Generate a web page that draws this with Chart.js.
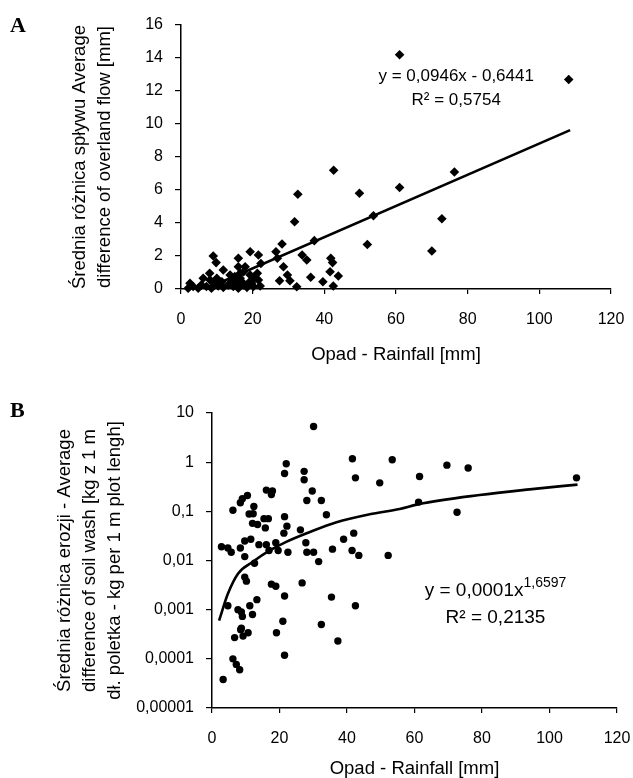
<!DOCTYPE html>
<html>
<head>
<meta charset="utf-8">
<script src="https://cdn.jsdelivr.net/npm/chart.js@4.4.1/dist/chart.umd.min.js"></script>
<style>
    body { margin: 0; background: #fff; }
    #wrap { position: relative; width: 633px; height: 778px; }
    .panel { position: absolute; left: 0; width: 633px; }
    .lbl { position: absolute; font-family: "Liberation Serif", "DejaVu Serif", serif; font-weight: bold; font-size: 22px; color: #000; }
</style>
</head>
<body>
<div id="wrap">
    <div class="panel" style="top:0;height:390px"><canvas id="chartA" width="633" height="390"></canvas></div>
    <div class="panel" style="top:390px;height:388px"><canvas id="chartB" width="633" height="388"></canvas></div>
    <div class="lbl" style="left:10px;top:12px">A</div>
    <div class="lbl" style="left:10px;top:397px">B</div>
</div>
<script>
// A: overland flow vs rainfall
var rainA = [61, 108.2, 42.6, 32.6, 49.8, 61, 76.3, 72.8, 70, 31.7, 53.7, 37.2, 52, 28.2, 26.5, 26.9, 28.6, 33.8, 35.1, 41.8,
    42.3, 29.7, 30.4, 32.3, 36.2, 39.6, 41.6, 43.9, 42.5, 27.5, 19.3, 21.6, 22.3, 16, 9, 9.8, 11.8, 16, 17.9, 16.5,
    19.3, 21.3, 21.6, 22.1, 19, 20.2, 6.2, 8.1, 10, 11.4, 14.2, 15.6, 17, 2.5, 2, 3.4, 4.8, 5.7, 7.1, 8.5,
    9, 10.4, 11.8, 13.2, 14.6, 16, 17.4, 18.4, 19.7, 20.6, 16.5, 13.7, 15, 17.5, 8];
var flowA = [14.2, 12.7, 7.2, 5.74, 5.8, 6.15, 7.09, 4.26, 2.3, 4.08, 4.44, 2.93, 2.7, 2.73, 2.26, 1.86, 1.35, 2.06, 1.76, 1.86,
    1.6, 0.85, 0.5, 0.14, 0.71, 0.44, 1.05, 0.79, 0.18, 0.5, 2.26, 2.06, 1.55, 1.86, 2.0, 1.6, 1.15, 1.35, 1.35, 0.95,
    0.85, 0.95, 0.55, 0.18, 0.4, 0.15, 0.65, 0.55, 0.65, 0.44, 0.55, 0.35, 0.44, 0.35, 0.05, 0.15, 0.05, 0.25, 0.15, 0.05,
    0.35, 0.18, 0.1, 0.25, 0.15, 0.05, 0.25, 0.1, 0.35, 0.65, 0.65, 0.85, 0.75, 1.05, 0.95];
// trend line ends
var trendAx = [6.8, 108.6];
var trendAy = [0, 9.63];
var ticksAy = [0, 2, 4, 6, 8, 10, 12, 14, 16];

// B: soil wash vs rainfall (log)
var rainB = [30.1, 41.6, 53.4, 22, 21.5, 27.3, 27.3, 29.7, 42.5, 49.7, 52.2, 43.5, 41.5, 42, 39, 35.7, 32.4, 33.9, 28.1, 26.2,
    27.8, 28.1, 30.1, 31.6, 26.7, 35.4, 42.5, 32.4, 21, 21.5, 17.6, 18.9, 21.5, 22.2, 21.3, 22.5, 18.9, 19.6, 16.9, 16.1,
    13.9, 16.1, 17.9, 17.6, 16.7, 15.4, 15.8, 13.5, 12, 12.4, 12.2, 11, 10.5, 9, 8.4, 6.2, 2.8, 4.7, 5.7, 8.4,
    9.7, 11.5, 9.7, 12.6, 9.7, 10.2, 13.3, 11.2, 12, 7.7, 8.7, 9, 4.7, 8.7, 61.5, 69.6, 75.9, 108, 61.2, 72.6,
    3.3, 6.2, 7.2, 8.2, 6.7, 8.5, 9.2, 10.7, 19.1, 21.5, 37.3];
var washB = [5.3, 1.17, 1.12, 0.93, 0.59, 0.65, 0.44, 0.26, 0.48, 0.38, 0.0127, 0.0127, 0.016, 0.036, 0.027, 0.017, 0.166, 0.085, 0.166, 0.042,
    0.023, 0.0147, 0.0147, 0.0095, 0.0035, 0.0018, 0.0012, 0.0005, 0.00058, 0.0019, 0.0033, 0.003, 0.078, 0.05, 0.036, 0.0147, 0.023, 0.016, 0.016, 0.021,
    0.021, 0.27, 0.26, 0.22, 0.071, 0.071, 0.046, 0.054, 0.057, 0.126, 0.089, 0.088, 0.21, 0.18, 0.15, 0.105, 0.019, 0.018, 0.0147, 0.018,
    0.025, 0.027, 0.012, 0.0088, 0.0046, 0.0038, 0.0016, 0.0012, 0.0008, 0.001, 0.0009, 0.00073, 0.0012, 0.00042, 0.51, 0.87, 0.76, 0.48, 0.154, 0.096,
    0.000038, 0.0001, 0.000077, 0.00006, 0.00027, 0.00039, 0.00029, 0.00034, 0.00034, 0.000118, 0.00023];
// power trend curve
var trendBx = [2.1, 4.7, 7.7, 12.1, 17.1, 22, 29, 36.9, 46.7, 55.6, 61.2, 79.3, 94.1, 108.3];
var trendBy = [0.0006, 0.0021, 0.0054, 0.0094, 0.016, 0.024, 0.038, 0.06, 0.087, 0.112, 0.14, 0.215, 0.28, 0.35];
var ticksBy = [0.00001, 0.0001, 0.001, 0.01, 0.1, 1, 10];
var ticksByLabels = ['0,00001', '0,0001', '0,001', '0,01', '0,1', '1', '10'];
var ticksX = [0, 20, 40, 60, 80, 100, 120];

Chart.defaults.font.family = '"Liberation Sans", Arial, sans-serif';
Chart.defaults.color = '#000';
Chart.defaults.animation = false;

function toPts(xs, ys) {
    var out = [];
    for (var i = 0; i < xs.length; i++) out.push({ x: xs[i], y: ys[i] });
    return out;
}

// text in the plot (equations)
var eqPlugin = {
    id: 'eqText',
    afterDraw: function (chart, args, opts) {
        var ctx = chart.ctx;
        var sx = chart.scales.x, sy = chart.scales.y;
        ctx.save();
        ctx.fillStyle = '#000';
        ctx.textBaseline = 'middle';
        (opts.lines || []).forEach(function (ln) {
            var px = sx.getPixelForValue(ln.x), py = sy.getPixelForValue(ln.y);
            ctx.font = ln.size + 'px "Liberation Sans", Arial, sans-serif';
            var w = ctx.measureText(ln.text).width;
            var ws = 0;
            if (ln.sup) {
                ctx.font = ln.supSize + 'px "Liberation Sans", Arial, sans-serif';
                ws = ctx.measureText(ln.sup).width;
            }
            var left = px - (w + ws) / 2;
            ctx.font = ln.size + 'px "Liberation Sans", Arial, sans-serif';
            ctx.textAlign = 'left';
            ctx.fillText(ln.text, left, py);
            if (ln.sup) {
                ctx.font = ln.supSize + 'px "Liberation Sans", Arial, sans-serif';
                ctx.fillText(ln.sup, left + w, py - 7);
            }
        });
        ctx.restore();
    }
};

function axisX(padTitle, h) {
    return {
        type: 'linear',
        min: 0, max: 120,
        afterBuildTicks: function (s) { s.ticks = ticksX.map(function (v) { return { value: v }; }); },
        afterFit: function (s) { s.height = h; s.paddingLeft = 0; s.paddingRight = 0; },
        border: { display: true, color: '#000', width: 1.5 },
        grid: { display: true, drawOnChartArea: false, drawTicks: true, tickLength: 5, color: '#000', lineWidth: 1.2 },
        ticks: { font: { size: 16 }, padding: 16, maxRotation: 0 },
        title: { display: true, text: 'Opad - Rainfall [mm]', font: { size: 18.5, lineHeight: 1 }, padding: { top: 0, bottom: padTitle } }
    };
}

var configA = {
    data: {
        datasets: [{
            type: 'scatter',
            data: toPts(rainA, flowA),
            pointStyle: 'rectRot',
            pointRadius: 4.8,
            backgroundColor: '#000',
            borderWidth: 0,
            clip: false
        }, {
            type: 'line',
            data: toPts(trendAx, trendAy),
            borderColor: '#000',
            borderWidth: 2.6,
            pointRadius: 0,
            fill: false
        }]
    },
    options: {
        responsive: false,
        layout: { padding: { left: 0, right: 22, top: 25, bottom: 0 } },
        plugins: {
            legend: { display: false },
            tooltip: { enabled: false },
            eqText: {
                lines: [
                    { text: 'y = 0,0946x - 0,6441', x: 76.8, y: 12.9, size: 17 },
                    { text: 'R\u00b2 = 0,5754', x: 76.8, y: 11.45, size: 17 }
                ]
            }
        },
        scales: {
            x: axisX(26, 101),
            y: {
                type: 'linear',
                min: 0, max: 16,
                afterBuildTicks: function (s) { s.ticks = ticksAy.map(function (v) { return { value: v }; }); },
                afterFit: function (s) { s.width = 181; s.paddingTop = 0; s.paddingBottom = 0; },
                border: { display: true, color: '#000', width: 1.5 },
                grid: { display: true, drawOnChartArea: false, drawTicks: true, tickLength: 6, color: '#000', lineWidth: 1.2 },
                ticks: { font: { size: 16 }, padding: 12 },
                title: {
                    display: true,
                    text: ['\u015arednia r\u00f3\u017cnica sp\u0142ywu Average', 'difference of overland flow [mm]'],
                    font: { size: 18.5, lineHeight: 1.35 },
                    padding: { top: 67, bottom: 0 }
                }
            }
        }
    },
    plugins: [eqPlugin]
};

var configB = {
    data: {
        datasets: [{
            type: 'scatter',
            data: toPts(rainB, washB),
            pointStyle: 'circle',
            pointRadius: 3.7,
            backgroundColor: '#000',
            borderWidth: 0,
            clip: false
        }, {
            type: 'line',
            data: toPts(trendBx, trendBy),
            borderColor: '#000',
            borderWidth: 2.6,
            pointRadius: 0,
            cubicInterpolationMode: 'monotone',
            fill: false
        }]
    },
    options: {
        responsive: false,
        layout: { padding: { left: 0, right: 16, top: 23, bottom: 0 } },
        plugins: {
            legend: { display: false },
            tooltip: { enabled: false },
            eqText: {
                lines: [
                    { text: 'y = 0,0001x', sup: '1,6597', x: 84, y: 0.00245, size: 19, supSize: 14 },
                    { text: 'R\u00b2 = 0,2135', x: 84, y: 0.00069, size: 19 }
                ]
            }
        },
        scales: {
            x: axisX(0, 70),
            y: {
                type: 'logarithmic',
                min: 0.00001, max: 10,
                afterBuildTicks: function (s) { s.ticks = ticksBy.map(function (v) { return { value: v }; }); },
                afterFit: function (s) { s.width = 212; s.paddingTop = 0; s.paddingBottom = 0; },
                border: { display: true, color: '#000', width: 1.5 },
                grid: { display: true, drawOnChartArea: false, drawTicks: true, tickLength: 6, color: '#000', lineWidth: 1.2 },
                ticks: {
                    font: { size: 16 },
                    padding: 12,
                    callback: function (v) {
                        var i = ticksBy.indexOf(v);
                        return i >= 0 ? ticksByLabels[i] : '';
                    }
                },
                title: {
                    display: true,
                    text: ['\u015arednia r\u00f3\u017cnica erozji - Average', 'difference of soil wash [kg z 1 m', 'd\u0142. poletka - kg per 1 m plot lengh]'],
                    font: { size: 18.5, lineHeight: 1.35 },
                    padding: { top: 52, bottom: 0 }
                }
            }
        }
    },
    plugins: [eqPlugin]
};

var ctxA = document.getElementById('chartA').getContext('2d');
var chartA = new Chart(ctxA, configA);
var ctxB = document.getElementById('chartB').getContext('2d');
var chartB = new Chart(ctxB, configB);
</script>
</body>
</html>
